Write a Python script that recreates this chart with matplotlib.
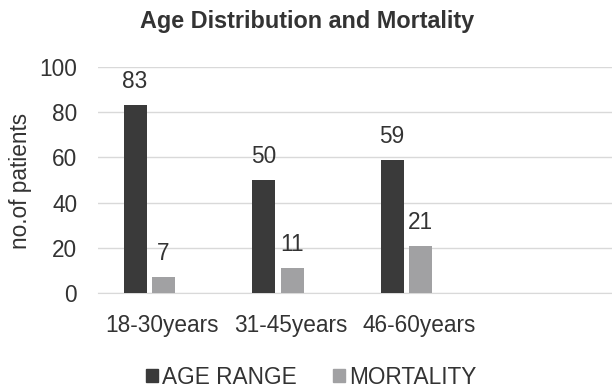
import numpy as np
import matplotlib.pyplot as plt

plt.rcParams['font.family'] = ['Liberation Sans', 'DejaVu Sans']

# Data
categories = ['18-30years', '31-45years', '46-60years', '']
age_range = [83, 50, 59]
mortality = [7, 11, 21]

dark = '#3a3a3a'
light = '#a1a1a3'
text_col = '#333333'
fs = 16.3

fig = plt.figure(figsize=(6.12, 3.88), dpi=100)
ax = fig.add_axes([98 / 612, 1 - 293 / 388, 514 / 612, 226 / 388])

x = np.arange(len(age_range))
w = 0.179
off_dark = -0.212
off_light = 0.01
ax.bar(x + off_dark, age_range, w, color=dark, zorder=3)
ax.bar(x + off_light, mortality, w, color=light, zorder=3)
for i in range(len(age_range)):
    ax.text(x[i] + off_dark, age_range[i] + 7.5, str(age_range[i]), ha='center', va='baseline',
            fontsize=fs, color=text_col)
    ax.text(x[i] + off_light, mortality[i] + 7.5, str(mortality[i]), ha='center', va='baseline',
            fontsize=fs, color=text_col)

ax.set_xlim(-0.5, len(categories) - 0.5)
ax.set_ylim(0, 100)
ax.set_yticks(range(0, 101, 20))
ax.set_xticks(np.arange(len(categories)))
ax.set_xticklabels(categories)
ax.tick_params(axis='both', length=0, labelsize=fs, colors=text_col)
ax.tick_params(axis='x', pad=15)
ax.tick_params(axis='y', pad=15)
ax.grid(axis='y', color='#d9d9d9', linewidth=1, zorder=0)
for s in ['top', 'right', 'left']:
    ax.spines[s].set_visible(False)
ax.spines['bottom'].set_color('#d9d9d9')

fig.text(21 / 612, 1 - 181 / 388, 'no.of patients', rotation=90, ha='center', va='center',
         fontsize=fs, color=text_col)
fig.text(307 / 612, 1 - 28 / 388, 'Age Distribution and Mortality', ha='center', va='baseline',
         fontsize=16.8, fontweight='bold', color=text_col)

h1 = plt.Rectangle((0, 0), 1, 1, color=dark)
h2 = plt.Rectangle((0, 0), 1, 1, color=light)
fig.legend([h1, h2], ['AGE RANGE', 'MORTALITY'], loc='center', bbox_to_anchor=(311 / 612, 1 - 377 / 388),
           ncol=2, frameon=False, fontsize=fs, handlelength=0.55, handleheight=0.55,
           handletextpad=0.15, columnspacing=1.6, labelcolor=text_col)

fig.savefig('out.png', dpi=100)
